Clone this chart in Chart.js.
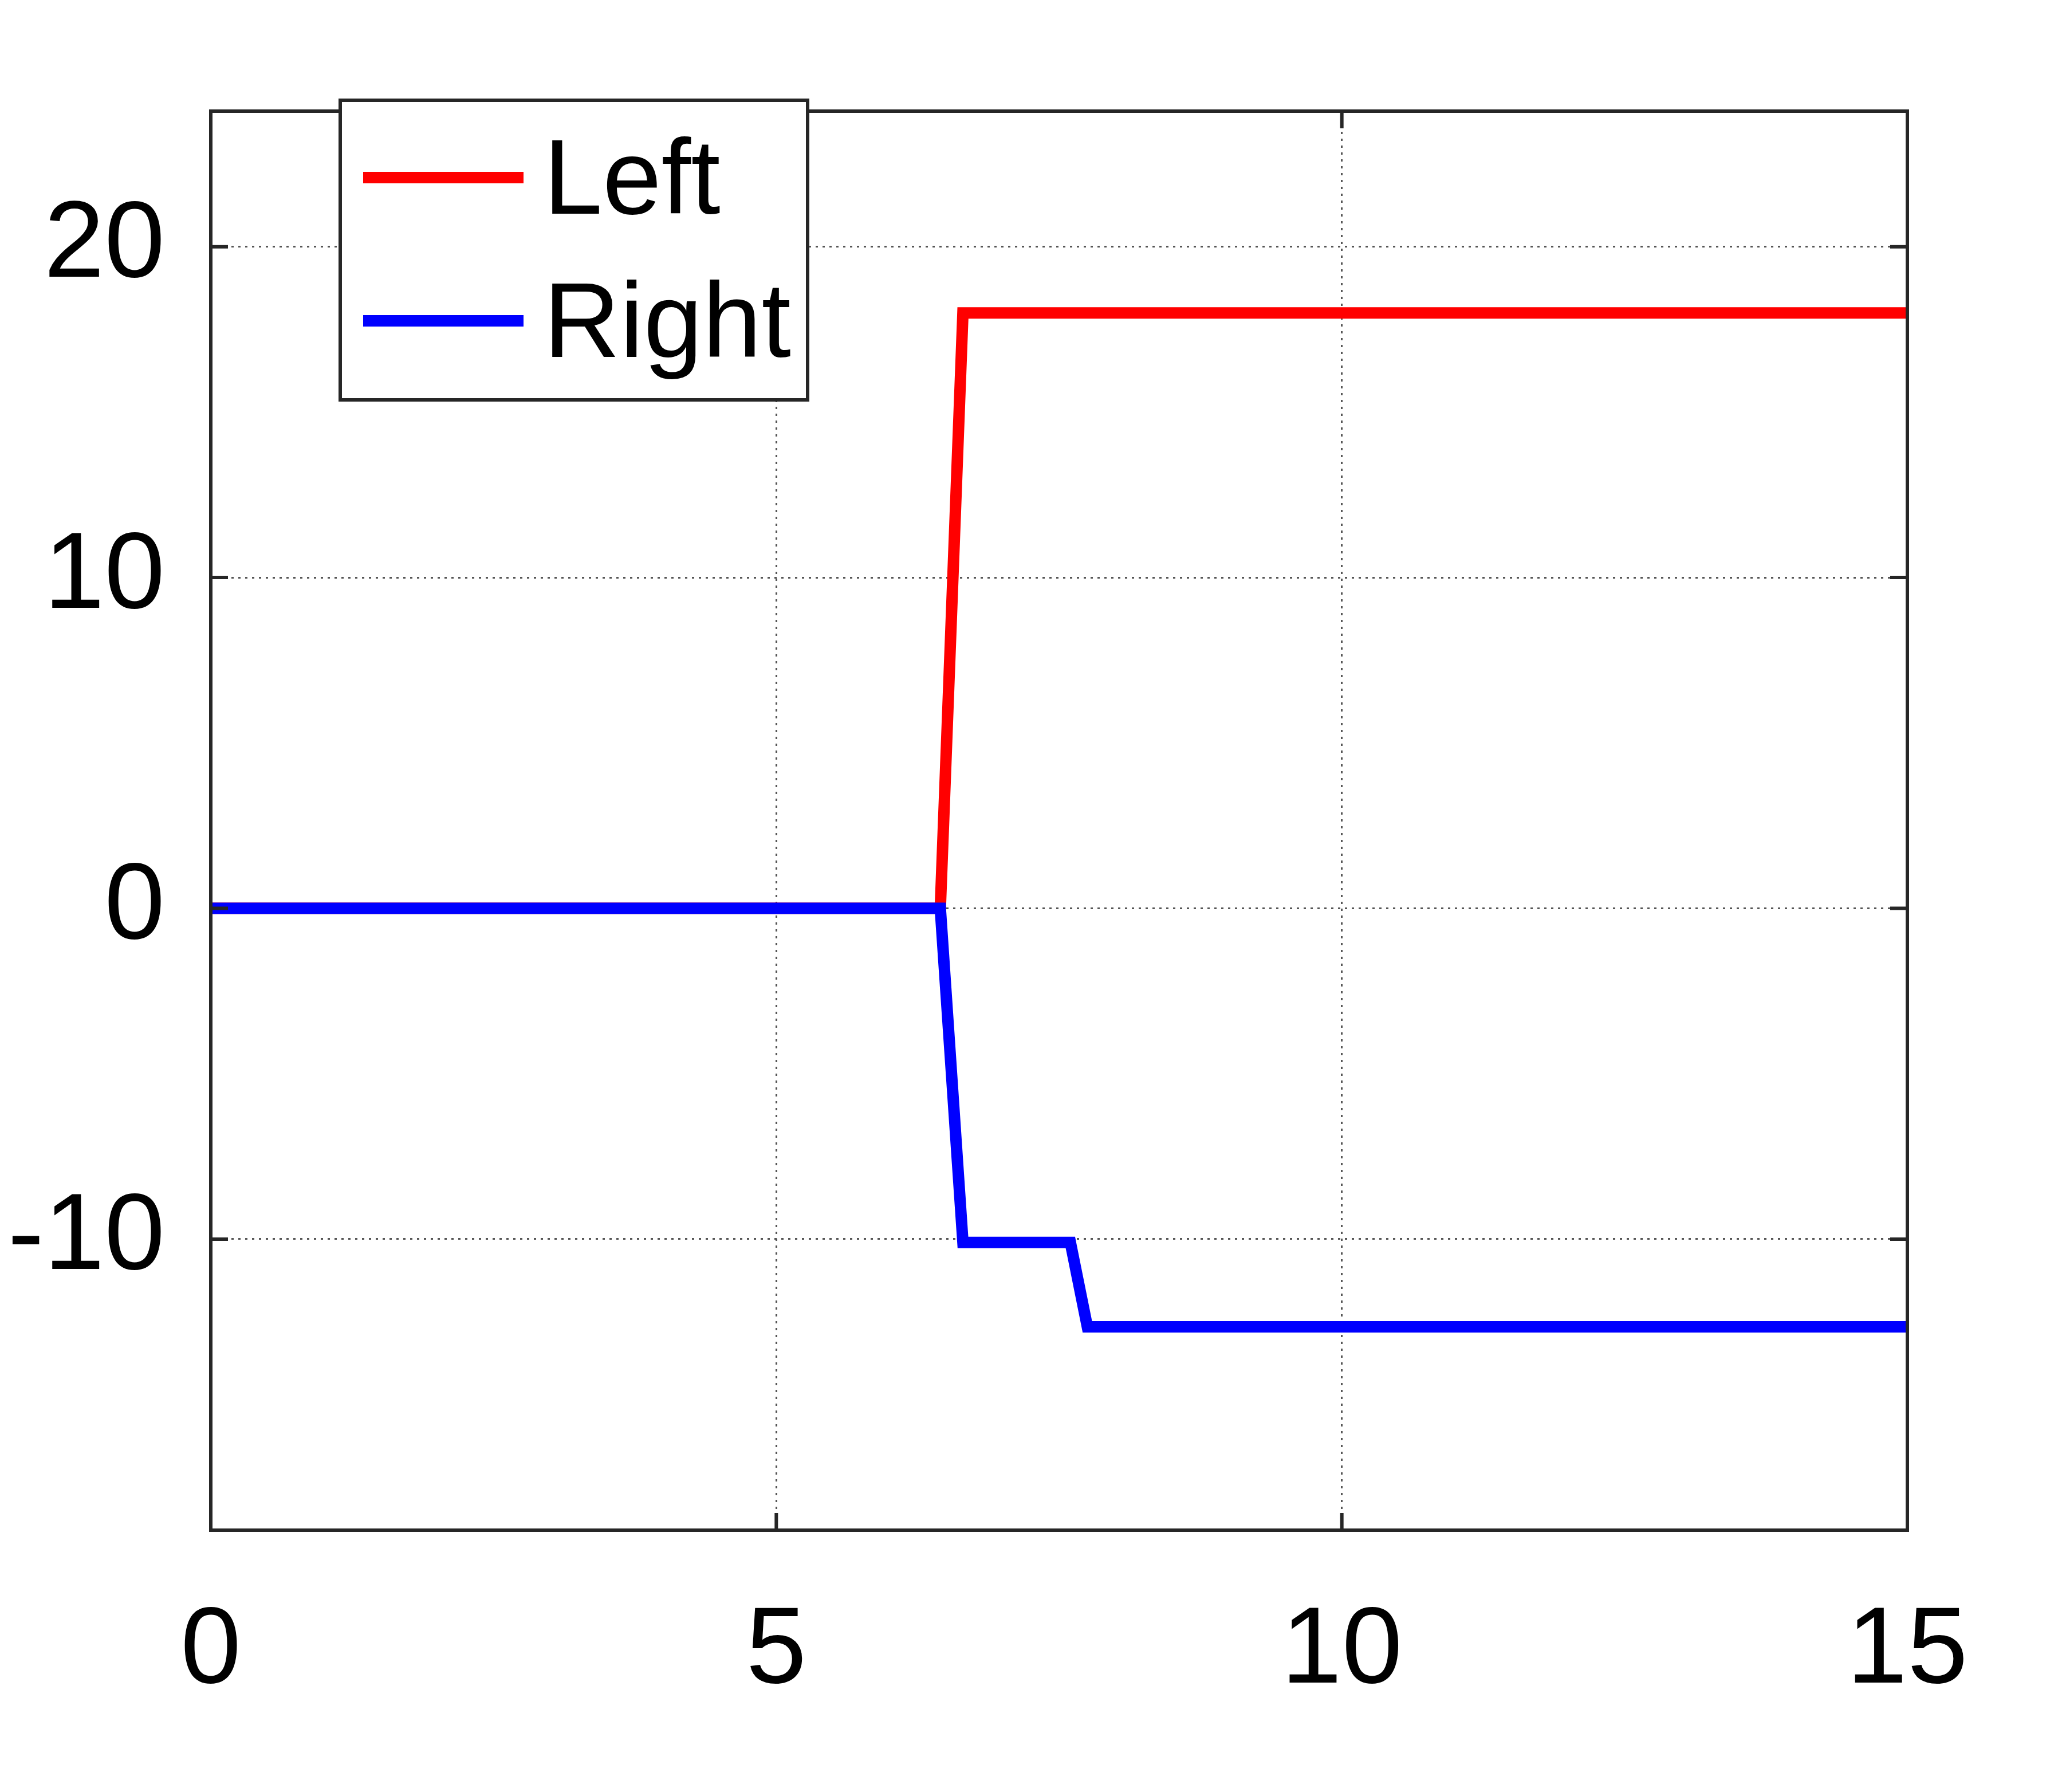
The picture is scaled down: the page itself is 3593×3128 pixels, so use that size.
<!DOCTYPE html>
<html>
<head>
<meta charset="utf-8">
<script src="https://cdn.jsdelivr.net/npm/chart.js@4"></script>
<style>
  html, body { margin: 0; padding: 0; background: #fff; }
</style>
</head>
<body>
<canvas id="chart" width="3593" height="3128"></canvas>
<script>
// --- Data ---
const leftX = [0, 6.45, 6.65, 15];
const leftY = [0, 0, 18, 18];
const rightX = [0, 6.45, 6.65, 7.6, 7.75, 15];
const rightY = [0, 0, -10.1, -10.1, -12.65, -12.65];
const xTicks = [0, 5, 10, 15];
const yTicks = [-10, 0, 10, 20];

const toPoints = (xs, ys) => xs.map((x, i) => ({ x: x, y: ys[i] }));

// --- Frame, inward ticks and boxed legend (MATLAB style) ---
const framePlugin = {
    id: 'frame',
    afterDraw(chart) {
        const ctx = chart.ctx;
        const a = chart.chartArea;
        const xs = chart.scales.x, ys = chart.scales.y;
        ctx.save();
        ctx.strokeStyle = '#262626';
        ctx.lineWidth = 6;
        ctx.strokeRect(a.left, a.top, a.right - a.left, a.bottom - a.top);
        const t = 30;
        ctx.beginPath();
        xTicks.forEach(v => {
            const px = xs.getPixelForValue(v);
            ctx.moveTo(px, a.bottom); ctx.lineTo(px, a.bottom - t);
            ctx.moveTo(px, a.top); ctx.lineTo(px, a.top + t);
        });
        yTicks.forEach(v => {
            const py = ys.getPixelForValue(v);
            ctx.moveTo(a.left, py); ctx.lineTo(a.left + t, py);
            ctx.moveTo(a.right, py); ctx.lineTo(a.right - t, py);
        });
        ctx.stroke();

        // legend box
        const bx = 594, by = 175, bw = 816, bh = 523;
        ctx.fillStyle = '#fff';
        ctx.fillRect(bx, by, bw, bh);
        ctx.strokeStyle = '#262626';
        ctx.lineWidth = 6;
        ctx.strokeRect(bx, by, bw, bh);
        ctx.font = '185px "Liberation Sans", Arial, sans-serif';
        ctx.textBaseline = 'middle';
        chart.data.datasets.forEach((ds, i) => {
            const cy = by + 135 + i * 250;
            ctx.strokeStyle = ds.borderColor;
            ctx.lineWidth = 20;
            ctx.beginPath();
            ctx.moveTo(bx + 40, cy); ctx.lineTo(bx + 320, cy);
            ctx.stroke();
            ctx.fillStyle = '#000';
            ctx.fillText(ds.label, bx + 355, cy + 12);
        });
        ctx.restore();
    }
};

new Chart(document.getElementById('chart'), {
    type: 'line',
    data: {
        datasets: [
            { label: 'Left', data: toPoints(leftX, leftY), borderColor: '#ff0000', borderWidth: 20, pointRadius: 0, tension: 0, order: 2 },
            { label: 'Right', data: toPoints(rightX, rightY), borderColor: '#0000ff', borderWidth: 20, pointRadius: 0, tension: 0, order: 1 }
        ]
    },
    options: {
        responsive: false,
        devicePixelRatio: 1,
        animation: false,
        layout: { padding: { top: 70, right: 263, left: 0, bottom: 0 } },
        plugins: { legend: { display: false }, tooltip: { enabled: false } },
        scales: {
            x: {
                type: 'linear', min: 0, max: 15,
                afterBuildTicks: s => { s.ticks = xTicks.map(v => ({ value: v })); },
                afterFit: s => { s.height = 457; },
                grid: { color: '#555', lineWidth: 3, drawTicks: false },
                border: { display: false, dash: [4, 8] },
                ticks: { color: '#000', padding: 100, font: { family: '"Liberation Sans", Arial', size: 190 } }
            },
            y: {
                type: 'linear', min: -18.8, max: 24.1,
                afterBuildTicks: s => { s.ticks = yTicks.map(v => ({ value: v })); },
                afterFit: s => { s.width = 368; },
                grid: { color: '#555', lineWidth: 3, drawTicks: false },
                border: { display: false, dash: [4, 8] },
                ticks: { color: '#000', padding: 80, font: { family: '"Liberation Sans", Arial', size: 190 } }
            }
        }
    },
    plugins: [framePlugin]
});
</script>
</body>
</html>
